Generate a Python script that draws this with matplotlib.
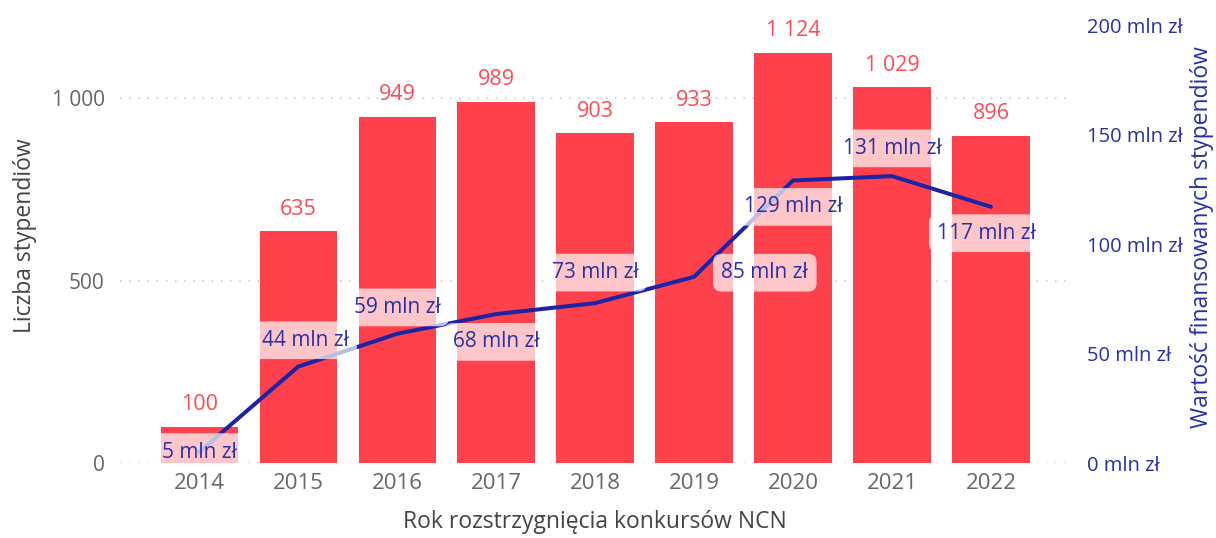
import matplotlib
matplotlib.use("Agg")
import matplotlib.pyplot as plt
import numpy as np

# ── Data ──
years = ["2014", "2015", "2016", "2017", "2018", "2019", "2020", "2021", "2022"]
counts = [100, 635, 949, 989, 903, 933, 1124, 1029, 896]
value_mln = [5, 44, 59, 68, 73, 85, 129, 131, 117]
left_ticks = [0, 500, 1000]
right_ticks = [0, 50, 100, 150, 200]

# line-label offsets (points): dodge like the original
lab_dx = [0, 5, 0, 0, 0, 51, 0, 0, -3]
lab_dy = [0, 19, 19, -20, 22, 3, -19, 20, -19]

C = {"bar": "#FF414B", "bar_txt": "#FF4B55", "line": "#1A24A5", "blue_txt": "#2830A5",
     "tick": "#666666", "title": "#444444", "grid": "#C8C8C8"}

plt.rcParams["font.family"] = ["Open Sans", "DejaVu Sans"]

fig = plt.figure(figsize=(12.16, 5.38), dpi=100, facecolor="white")
ax = fig.add_axes([0.0987, 0.1394, 0.7813, 0.8141])
x = np.arange(len(years))

ax.bar(x, counts, width=0.78, color=C["bar"], zorder=1)
ax.set_xlim(-0.8, 8.8)
ax.set_ylim(0, 1200)
ax.set_yticks(left_ticks)
ax.set_yticklabels([f"{t:,}".replace(",", " ") for t in left_ticks])
ax.set_xticks(x)
ax.set_xticklabels(years)
ax.tick_params(axis="y", length=0, labelsize=15, colors=C["tick"], pad=11)
ax.tick_params(axis="x", length=0, labelsize=16, colors=C["tick"], pad=7)
for s in ax.spines.values():
    s.set_visible(False)
for t in left_ticks:
    ax.axhline(t, color=C["grid"], linestyle=(0, (1, 5)), linewidth=1.1, zorder=0)

ax.set_ylabel("Liczba stypendiów", fontsize=16.5, color=C["title"])
ax.yaxis.set_label_coords(-0.1, 0.52)
ax.yaxis.label.set_va("center")
ax.set_xlabel("Rok rozstrzygnięcia konkursów NCN", fontsize=16.5, color=C["title"])
ax.xaxis.set_label_coords(0.5, -0.135)
ax.xaxis.label.set_va("center")

for xi, c in zip(x, counts):
    ax.annotate(f"{c:,}".replace(",", " "), (xi, c), xytext=(0, 16),
                textcoords="offset points", ha="center", va="center",
                fontsize=15.5, color=C["bar_txt"], zorder=4)

ax2 = ax.twinx()
ax2.set_ylim(0, 200)
ax2.plot(x, value_mln, color=C["line"], linewidth=2.9, zorder=2, solid_capstyle="round")
ax2.set_yticks(right_ticks)
ax2.set_yticklabels([f"{t} mln zł" for t in right_ticks])
ax2.tick_params(axis="y", length=0, labelsize=14.5, colors=C["blue_txt"], pad=12)
for s in ax2.spines.values():
    s.set_visible(False)
ax2.set_ylabel("Wartość finansowanych stypendiów", fontsize=16.5, color=C["blue_txt"])
ax2.yaxis.set_label_coords(1.139, 0.515)
ax2.yaxis.label.set_va("center")

for xi, v, dx, dy in zip(x, value_mln, lab_dx, lab_dy):
    ax2.annotate(f"{v} mln zł", (xi, v), xytext=(dx, dy), textcoords="offset points",
                 ha="center", va="center", fontsize=15, color=C["blue_txt"], zorder=5,
                 bbox=dict(boxstyle="round,pad=0.4,rounding_size=0.4",
                           fc="white", ec="none", alpha=0.7))

fig.savefig("out.png", dpi=100, facecolor="white")
